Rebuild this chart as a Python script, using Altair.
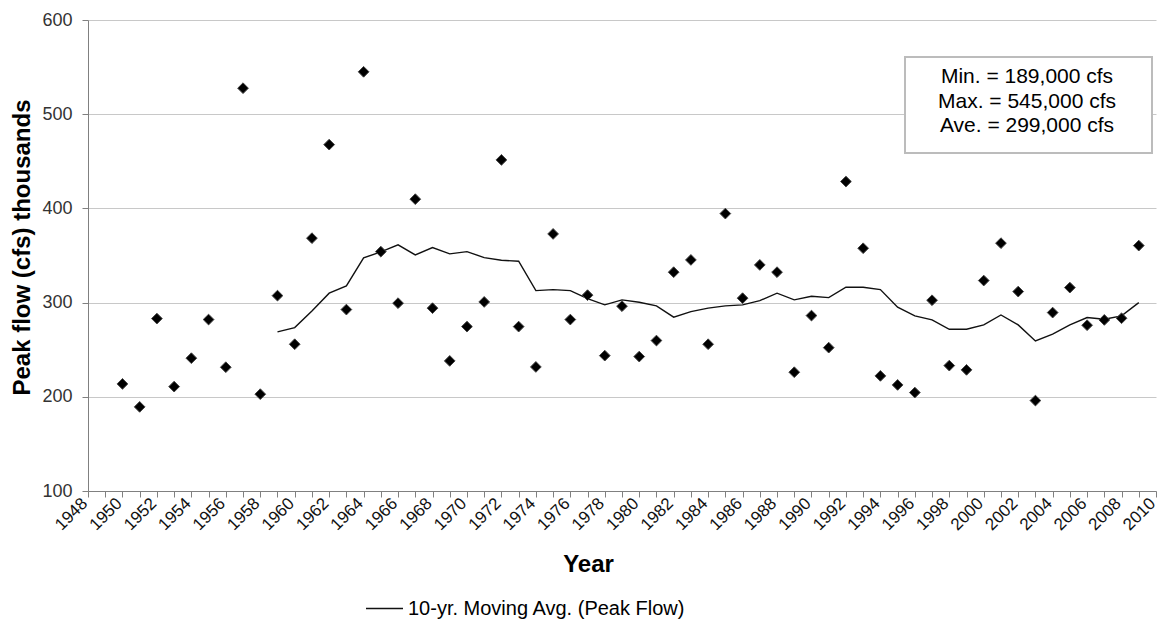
import altair as alt
import pandas as pd
import numpy as np

# ---- data ----
years = list(range(1950, 2010))
peak_flow = [
    213.7, 189.3, 283.0, 210.8, 241.0, 282.0, 231.4, 527.6, 202.8, 307.4,   # 1950-1959
    255.8, 368.4, 467.7, 292.6, 545.0, 354.1, 299.4, 409.8, 294.1, 238.1,   # 1960-1969
    274.5, 300.7, 451.5, 274.5, 231.7, 372.9, 282.0, 307.9, 243.7, 296.2,   # 1970-1979
    242.7, 259.7, 332.3, 345.3, 255.8, 394.5, 304.7, 340.0, 332.3, 226.1,   # 1980-1989
    286.2, 252.2, 428.5, 357.7, 222.2, 212.6, 204.5, 302.5, 233.1, 228.6,   # 1990-1999
    323.4, 363.1, 311.7, 196.0, 289.4, 315.9, 276.0, 281.6, 283.4, 360.5,   # 2000-2009
]
ma_years = list(range(1959, 2010))
moving_avg = [
    268.9,                                                                   # 1959
    273.5, 291.2, 310.0, 317.7, 347.5, 353.8, 361.3, 350.6, 358.4, 351.7,   # 1960-1969
    354.1, 347.8, 345.0, 343.9, 312.7, 313.8, 312.7, 304.2, 297.6, 302.9,   # 1970-1979
    300.4, 296.5, 284.5, 290.4, 294.1, 296.5, 297.6, 302.1, 310.0, 302.9,   # 1980-1989
    306.8, 305.3, 316.3, 316.3, 313.8, 295.1, 285.9, 281.6, 271.7, 271.7,   # 1990-1999
    276.3, 286.9, 276.3, 259.3, 266.5, 276.3, 284.1, 282.4, 285.9, 300.0,   # 2000-2009
]
series_name = "10-yr. Moving Avg. (Peak Flow)"
stats_lines = ["Min. = 189,000 cfs", "Max. = 545,000 cfs", "Ave. = 299,000 cfs"]
y_ticks = [100, 200, 300, 400, 500, 600]
x_ticks = list(range(1948, 2011))

# ---- tables ----
ma_map = dict(zip(ma_years, moving_avg))
df = pd.DataFrame({
    "year": years,
    "peak": peak_flow,
    "ma": [ma_map.get(y, np.nan) for y in years],
    "series": series_name,
})

FONT = "Liberation Sans"

xscale = alt.Scale(domain=[1948, 2010], zero=False, nice=False)
yscale = alt.Scale(domain=[100, 600], zero=False, nice=False)

xaxis = alt.Axis(
    values=x_ticks,
    labelExpr="datum.value % 2 == 0 ? '' + datum.value : ''",
    grid=False,
    tickSize=6,
    tickColor="#808080",
    domainColor="#808080",
    labelAngle=-45,
    labelAlign="right",
    labelBaseline="alphabetic",
    labelFontSize=17,
    labelColor="#111111",
    labelPadding=7,
    labelFlush=False,
    labelOverlap=False,
    labelBound=False,
    title="Year",
    titleFontSize=24,
    titleFontWeight="bold",
    titleColor="#000000",
    titleX=500,
    titleY=73,
    titleAlign="center",
    titleBaseline="middle",
)
yaxis = alt.Axis(
    values=y_ticks,
    grid=True,
    gridColor="#c8c8c8",
    gridWidth=1,
    tickSize=6,
    tickColor="#808080",
    domainColor="#808080",
    labelFontSize=18,
    labelColor="#333333",
    labelPadding=10,
    title="Peak flow (cfs) thousands",
    titleFontSize=24,
    titleFontWeight="bold",
    titleColor="#000000",
    titleAngle=270,
    titleX=-66,
    titleY=227,
    titleAlign="center",
    titleBaseline="middle",
)

base = alt.Chart(df).encode(
    x=alt.X("year:Q", scale=xscale, axis=xaxis, title="Year")
)

points = base.mark_point(
    shape="diamond", filled=True, size=115, color="#000000",
    stroke="#444444", strokeWidth=1, opacity=1
).encode(
    y=alt.Y("peak:Q", scale=yscale, axis=yaxis, title="Peak flow (cfs) thousands")
)

line = base.mark_line(color="#111111", strokeWidth=1.4).encode(
    y=alt.Y("ma:Q", scale=yscale, axis=yaxis, title="Peak flow (cfs) thousands"),
    color=alt.Color(
        "series:N",
        scale=alt.Scale(domain=[series_name], range=["#111111"]),
        legend=alt.Legend(
            title=None,
            orient="none",
            legendX=277,
            legendY=569,
            padding=0,
            symbolType="stroke",
            symbolSize=1369,
            symbolStrokeWidth=1.5,
            labelFontSize=20,
            labelColor="#000000",
            labelFont=FONT,
            labelOffset=4,
            labelLimit=500,
        ),
    ),
)

one = pd.DataFrame({"k": [0]})
box = alt.Chart(one).mark_rect(
    fill="white", stroke="#bcbcbc", strokeWidth=2
).encode(
    x=alt.value(817), x2=alt.value(1064), y=alt.value(37), y2=alt.value(133)
)
stats = alt.Chart(one).mark_text(
    align="center", baseline="middle", fontSize=21, lineHeight=24.5,
    font=FONT, color="#000000"
).encode(
    x=alt.value(939), y=alt.value(57), text=alt.value(stats_lines)
)

chart = alt.layer(line, points, box, stats).properties(
    width=1068,
    height=471,
    autosize=alt.AutoSizeParams(type="none"),
    padding={"left": 80, "top": 12, "right": 2, "bottom": 133},
).configure(
    font=FONT,
).configure_view(
    stroke=None
)

chart.save("out.html", embed_options={"renderer": "svg", "actions": False})
